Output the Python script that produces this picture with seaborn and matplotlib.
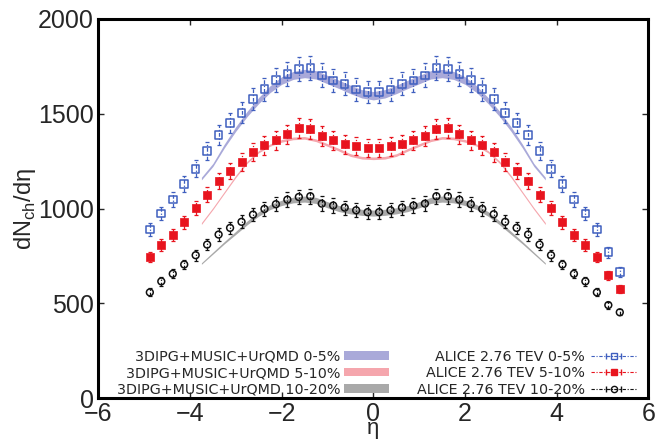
import numpy as np
import matplotlib
matplotlib.use('Agg')
import matplotlib.pyplot as plt
import seaborn as sns
from matplotlib.patches import Patch

# ALICE 2.76 TeV data points
alice_eta = [-4.875, -4.625, -4.375, -4.125, -3.875, -3.625, -3.375, -3.125, -2.875, -2.625,
             -2.375, -2.125, -1.875, -1.625, -1.375, -1.125, -0.875, -0.625, -0.375, -0.125,
             0.125, 0.375, 0.625, 0.875, 1.125, 1.375, 1.625, 1.875, 2.125, 2.375,
             2.625, 2.875, 3.125, 3.375, 3.625, 3.875, 4.125, 4.375, 4.625, 4.875,
             5.125, 5.375]
alice_0_5 = [889, 974, 1047, 1128, 1210, 1303, 1388, 1450, 1505, 1579,
             1630, 1677, 1708, 1737, 1740, 1702, 1675, 1658, 1628, 1614,
             1615, 1628, 1658, 1675, 1702, 1740, 1737, 1708, 1679, 1630,
             1579, 1505, 1451, 1389, 1303, 1210, 1128, 1047, 974, 889,
             770, 666]
alice_5_10 = [745, 807, 859, 928, 1002, 1072, 1144, 1198, 1245, 1297,
              1333, 1361, 1391, 1424, 1419, 1382, 1361, 1339, 1329, 1319,
              1320, 1328, 1338, 1361, 1382, 1419, 1424, 1391, 1361, 1333,
              1296, 1245, 1198, 1144, 1072, 1003, 928, 859, 807, 745,
              649, 576]
alice_10_20 = [558, 616, 656, 705, 754, 810, 863, 898, 930, 968,
               998, 1023, 1047, 1061, 1065, 1026, 1016, 1005, 991, 981,
               981, 991, 1005, 1016, 1026, 1065, 1065, 1047, 1023, 998,
               970, 930, 898, 863, 810, 754, 705, 656, 616, 558,
               491, 453]
alice_rel_err = 0.037

# 3DIPG+MUSIC+UrQMD model curves
model_eta = [-3.75, -3.5, -3.25, -3.0, -2.75, -2.5, -2.25, -2.0, -1.75, -1.5, -1.25, -1.0, -0.75, -0.5, -0.25,
             0.0, 0.25, 0.5, 0.75, 1.0, 1.25, 1.5, 1.75, 2.0, 2.25, 2.5, 2.75, 3.0, 3.25, 3.5, 3.75]
model_0_5 = [1158, 1230, 1330, 1420, 1500, 1570, 1630, 1675, 1702, 1712, 1705, 1680, 1655, 1628, 1605,
             1595, 1605, 1628, 1655, 1680, 1705, 1712, 1702, 1675, 1630, 1570, 1500, 1420, 1330, 1230, 1158]
model_0_5_err = [7, 8, 10, 12, 14, 16, 18, 20, 21, 22, 22, 22, 22, 22, 22,
                 22, 22, 22, 22, 22, 22, 22, 21, 20, 18, 16, 14, 12, 10, 8, 7]
model_5_10 = [921, 1000, 1085, 1170, 1245, 1300, 1335, 1357, 1370, 1373, 1360, 1335, 1310, 1282, 1268,
              1265, 1268, 1282, 1310, 1335, 1360, 1373, 1370, 1357, 1335, 1300, 1245, 1170, 1085, 1000, 921]
model_5_10_err = [5, 5, 5, 6, 6, 6, 6, 7, 7, 7, 7, 7, 7, 7, 7,
                  7, 7, 7, 7, 7, 7, 7, 7, 7, 6, 6, 6, 6, 5, 5, 5]
model_10_20 = [710, 765, 820, 872, 925, 972, 1008, 1030, 1045, 1050, 1043, 1020, 1000, 988, 980,
               976, 980, 988, 1000, 1020, 1043, 1050, 1045, 1030, 1008, 972, 925, 872, 820, 765, 710]
model_10_20_err = [4, 5, 6, 8, 10, 12, 13, 14, 15, 16, 16, 16, 16, 16, 16,
                   16, 16, 16, 16, 16, 16, 16, 15, 14, 13, 12, 10, 8, 6, 5, 4]

centralities = ['0-5%', '5-10%', '10-20%']
band_colors = ['#a9a9d9', '#f5a6ad', '#a9a9a9']
data_colors = ['#3f5fbf', '#e8141e', '#111111']
markers = ['s', 's', 'o']
filled = [False, True, False]
dashdot = (0, (3, 1.5, 1, 1.5))

sns.set_theme(style='ticks')
plt.rcParams['font.family'] = ['Liberation Sans', 'DejaVu Sans']

fig = plt.figure(figsize=(6.55, 4.4), dpi=100)
ax = fig.add_axes([0.150, 0.095, 0.840, 0.862])

models = [model_0_5, model_5_10, model_10_20]
model_errs = [model_0_5_err, model_5_10_err, model_10_20_err]
for m, e, c in zip(models, model_errs, band_colors):
    m = np.array(m)
    e = np.array(e)
    ax.fill_between(model_eta, m - e, m + e, color=c, lw=0, zorder=1)

datasets = [alice_0_5, alice_5_10, alice_10_20]
sizes = [30, 28, 24]
for d, c, mk, fl, sz in zip(datasets, data_colors, markers, filled, sizes):
    d = np.array(d)
    eb = ax.errorbar(alice_eta, d, yerr=alice_rel_err * d, fmt='none', ecolor=c,
                     elinewidth=0.9, capsize=1.5, capthick=0.9, zorder=2)
    eb[2][0].set_linestyle(dashdot)
    sns.scatterplot(x=alice_eta, y=d, ax=ax, marker=mk, s=sz,
                    facecolor=c if fl else 'none', edgecolor=c, linewidth=1.1 if not fl else 0.5,
                    zorder=3)

ax.set_xlim(-6, 6)
ax.set_ylim(0, 2000)
ax.set_xticks([-6, -4, -2, 0, 2, 4, 6])
ax.set_yticks([0, 500, 1000, 1500, 2000])
ax.tick_params(direction='in', length=4.5, width=1, labelsize=18, top=True, right=True, pad=3)
for s in ax.spines.values():
    s.set_linewidth(2.2)
    s.set_color('black')
ax.set_xlabel('η', fontsize=16, labelpad=-6)
ax.set_ylabel(r'dN$_{\mathregular{ch}}$/dη', fontsize=17, labelpad=0)

# legends
leg_font = {'family': 'DejaVu Sans', 'size': 10.3}
model_handles = [Patch(facecolor=c, edgecolor='none') for c in band_colors]
model_labels = ['3DIPG+MUSIC+UrQMD ' + c for c in centralities]
leg1 = ax.legend(model_handles, model_labels, loc='lower right', bbox_to_anchor=(0.528, 0.004),
                 frameon=False, markerfirst=False, handlelength=3.1, handleheight=0.55,
                 labelspacing=0.18, handletextpad=0.3, borderaxespad=0, borderpad=0,
                 prop=leg_font)
ax.add_artist(leg1)

data_handles = []
for c, mk, fl in zip(data_colors, markers, filled):
    h = ax.errorbar([np.nan], [np.nan], xerr=[1], fmt=mk, color=c, ms=4.5,
                    mfc=c if fl else 'none', mec=c, ls=dashdot, lw=0.8,
                    elinewidth=0.8, capsize=2.5)
    h[2][0].set_linestyle(dashdot)
    data_handles.append(h)
data_labels = ['ALICE 2.76 TEV ' + c for c in centralities]
leg2 = ax.legend(data_handles, data_labels, loc='lower right', bbox_to_anchor=(0.977, 0.004),
                 frameon=False, markerfirst=False, handlelength=3.1,
                 labelspacing=0.18, handletextpad=0.45, borderaxespad=0, borderpad=0,
                 prop=leg_font)

fig.savefig('out.png', dpi=100)
